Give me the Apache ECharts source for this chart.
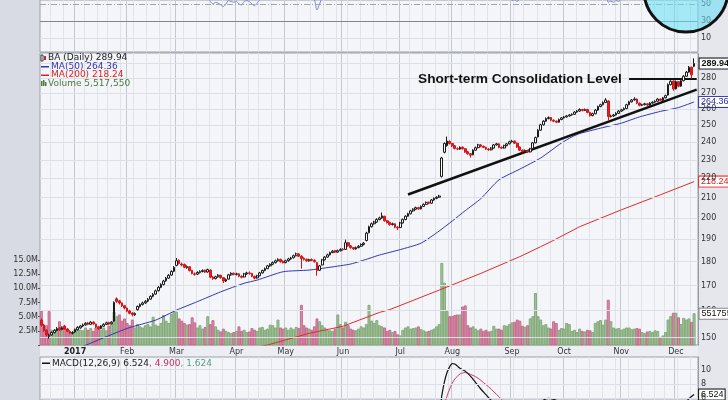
<!DOCTYPE html>
<html><head><meta charset="utf-8">
<script src="https://cdn.jsdelivr.net/npm/echarts@6/dist/echarts.min.js"></script>
<style>html,body{margin:0;padding:0;background:#d8dbe3}#c{width:728px;height:400px}</style>
</head><body><div id="c"></div>
<script>
// ---------- DATA ----------
const tradingDays = [
  ['2016-12', [13,14,15,16,19,20,21,22,23,27,28,29,30]],
  ['2017-01', [3,4,5,6,9,10,11,12,13,17,18,19,20,23,24,25,26,27,30,31]],
  ['2017-02', [1,2,3,6,7,8,9,10,13,14,15,16,17,21,22,23,24,27,28]],
  ['2017-03', [1,2,3,6,7,8,9,10,13,14,15,16,17,20,21,22,23,24,27,28,29,30,31]],
  ['2017-04', [3,4,5,6,7,10,11,12,13,17,18,19,20,21,24,25,26,27,28]],
  ['2017-05', [1,2,3,4,5,8,9,10,11,12,15,16,17,18,19,22,23,24,25,26,30,31]],
  ['2017-06', [1,2,5,6,7,8,9,12,13,14,15,16,19,20,21,22,23,26,27,28,29,30]],
  ['2017-07', [3,5,6,7,10,11,12,13,14,17,18,19,20,21,24,25,26,27,28,31]],
  ['2017-08', [1,2,3,4,7,8,9,10,11,14,15,16,17,18,21,22,23,24,25,28,29,30,31]],
  ['2017-09', [1,5,6,7,8,11,12,13,14,15,18,19,20,21,22,25,26,27,28,29]],
  ['2017-10', [2,3,4,5,6,9,10,11,12,13,16,17,18,19,20,23,24,25,26,27,30,31]],
  ['2017-11', [1,2,3,6,7,8,9,10,13,14,15,16,17,20,21,22,24,27,28,29,30]],
  ['2017-12', [1,4,5,6,7,8,11,12,13]]
];
// [open, close, low, high]
const ohlc = [
[156.4,154.5,154.0,157.0],[154.6,152.5,152.0,155.0],[152.6,151.0,150.4,153.0],[150.4,150.8,149.6,151.4],[150.9,151.8,150.6,152.2],
[151.8,152.6,151.4,153.0],[152.5,153.2,152.2,153.8],[153.4,152.8,152.4,153.8],[152.9,153.5,152.6,154.0],[154.2,153.0,152.8,154.6],
[153.1,152.2,151.9,153.4],[152.2,151.6,151.2,152.6],[151.5,151.8,151.1,152.3],[152.0,152.8,151.6,153.2],[152.8,153.6,152.5,154.0],
[153.5,154.2,153.2,154.6],[154.2,154.6,153.8,155.1],[154.6,155.2,154.3,155.6],[155.3,154.8,154.5,155.7],[154.8,155.6,154.6,156.0],
[155.6,155.0,154.7,156.0],[154.9,153.8,153.5,155.1],[153.9,153.2,152.8,154.2],[153.3,154.2,153.0,154.5],[154.1,154.8,153.9,155.2],
[154.8,155.4,154.5,155.8],[155.5,154.9,154.5,155.8],[155.0,155.6,154.8,156.0],[156.0,163.2,155.8,163.6],[164.6,163.6,163.0,165.2],
[163.8,163.0,162.4,164.2],[163.0,161.8,161.4,163.2],[161.9,161.0,160.5,162.2],[161.0,159.8,159.4,161.2],[159.9,159.0,158.6,160.3],
[159.1,158.5,157.8,159.4],[158.4,158.9,158.0,159.3],[160.4,161.6,160.0,162.0],[161.6,162.4,161.2,162.8],[162.4,163.0,162.0,163.5],
[163.0,163.6,162.6,164.1],[163.7,164.4,163.3,164.9],[164.5,165.6,164.2,166.0],[165.6,166.4,165.2,166.9],[166.5,167.8,166.2,168.3],
[167.9,169.2,167.5,169.7],[169.2,170.4,168.9,170.9],[170.4,171.8,170.0,172.3],[171.9,173.0,171.5,173.5],[173.0,174.2,172.7,174.7],
[174.3,175.8,174.0,176.3],[175.9,177.6,175.5,178.1],[178.4,180.4,178.0,181.6],[180.6,179.2,178.8,181.0],[179.0,178.6,178.0,179.6],
[178.8,177.6,177.2,179.2],[177.4,177.9,177.0,178.4],[177.8,176.2,175.8,178.0],[176.3,175.0,174.6,176.5],[174.8,174.6,174.0,175.4],
[174.7,175.4,174.3,175.9],[175.3,175.8,175.0,176.3],[175.8,176.2,175.4,176.7],[176.3,175.6,175.2,176.6],[175.6,176.6,175.3,177.0],
[176.4,173.4,173.0,176.6],[173.5,172.8,172.3,173.9],[172.8,173.6,172.5,174.0],[173.6,174.2,173.2,174.7],[174.2,173.2,172.8,174.4],
[173.2,171.8,171.0,173.4],[171.8,172.4,171.4,172.9],[172.6,174.4,172.4,174.8],[174.4,175.0,174.0,175.5],[175.0,174.6,174.2,175.4],
[174.6,174.8,174.1,175.3],[174.8,173.8,173.4,175.0],[173.8,173.4,172.9,174.2],[173.5,174.8,173.3,175.2],[174.8,175.2,174.4,175.7],
[175.2,175.0,174.5,175.8],[175.0,173.8,173.4,175.2],[173.8,173.0,172.5,174.0],[173.1,174.0,172.8,174.4],[174.0,175.2,173.8,175.6],
[175.2,176.2,174.9,176.6],[176.2,177.0,175.9,177.5],[177.0,178.2,176.8,178.6],[178.2,178.8,177.8,179.3],[178.9,179.6,178.5,180.1],
[179.6,180.4,179.2,180.9],[180.4,181.0,180.0,181.5],[181.0,180.0,179.6,181.3],[180.1,179.6,179.2,180.6],[179.6,180.4,179.3,180.9],
[180.4,181.2,180.0,181.7],[181.2,181.6,180.8,182.1],[181.7,182.6,181.4,183.1],[182.6,183.4,182.3,184.0],[183.4,182.4,182.0,183.7],
[182.4,181.4,177.0,182.8],[181.5,181.0,180.5,181.9],[181.0,180.4,180.0,181.4],[180.4,180.8,180.0,181.3],[180.9,180.6,180.2,181.4],
[180.6,180.0,179.6,181.0],[179.6,176.2,174.0,179.8],[176.3,178.2,176.0,178.6],[178.6,180.8,178.4,181.2],[180.8,182.0,180.5,182.4],
[182.0,183.0,181.7,183.5],[183.0,184.0,182.7,184.4],[184.0,184.6,183.7,185.1],[184.8,184.2,183.8,185.2],[184.2,184.8,183.9,185.3],
[184.8,185.4,184.5,185.9],[185.5,185.2,184.8,186.0],[185.4,188.4,185.2,189.8],[188.4,187.0,186.6,188.8],[187.0,186.2,185.7,187.3],
[186.2,185.6,185.1,186.5],[185.6,186.2,185.3,186.7],[186.2,186.8,185.9,187.3],[186.8,187.6,186.5,188.1],[187.6,188.2,187.2,188.7],
[189.4,192.8,189.0,193.4],[193.0,195.8,192.7,196.3],[195.8,197.2,195.4,197.8],[197.2,198.0,196.8,198.6],[198.0,199.2,197.6,199.8],
[199.2,200.0,198.8,200.6],[200.0,201.0,199.6,202.6],[200.8,198.6,198.2,201.0],[198.6,197.8,197.3,199.0],[197.9,196.8,196.3,198.1],
[196.8,197.2,196.4,197.7],[197.2,195.6,195.1,197.4],[195.6,195.2,194.2,196.0],[195.4,197.6,195.2,198.1],[197.6,199.2,197.3,199.7],
[199.2,200.8,198.9,201.3],[200.8,202.0,200.5,202.5],[202.0,203.4,201.7,203.9],[203.4,204.2,203.0,204.7],[204.2,205.0,203.8,205.5],
[205.0,204.4,203.9,205.4],[204.4,205.6,204.1,206.1],[205.6,206.6,205.3,207.1],[206.6,207.6,206.3,208.1],[207.7,207.2,206.7,208.0],
[207.2,208.8,206.9,209.3],[208.8,209.6,208.4,210.1],[209.6,210.2,209.2,210.7],[210.2,210.8,209.8,211.4],[221.0,231.0,220.4,231.6],
[234.2,239.2,233.6,239.8],[238.0,240.6,237.4,243.2],[240.4,239.2,238.6,241.0],[239.2,237.8,237.2,239.6],[237.9,236.4,235.8,238.2],
[236.2,236.0,235.4,237.0],[236.0,237.0,235.6,237.6],[237.0,236.2,235.7,237.6],[236.2,234.4,233.9,236.6],[234.5,233.4,232.8,234.9],
[233.4,232.6,231.2,233.8],[232.8,235.4,232.5,235.9],[235.4,236.8,235.0,237.4],[236.8,238.4,236.4,239.0],[238.4,237.6,237.0,238.9],
[237.6,237.0,236.5,238.0],[237.0,236.0,235.5,237.4],[236.0,235.6,235.0,236.6],[235.6,236.6,235.2,237.1],[236.6,238.4,236.3,238.9],
[238.4,239.0,238.0,239.6],[239.0,237.0,236.5,239.3],[237.0,236.6,236.0,237.5],[236.6,238.0,236.3,238.5],[238.0,239.0,237.6,239.5],
[239.0,240.2,238.7,240.8],[240.2,240.6,239.8,241.3],[240.6,239.4,238.9,240.9],[239.4,237.2,236.7,239.7],[237.2,235.4,234.9,237.5],
[235.4,234.6,234.0,235.8],[234.6,235.2,234.2,235.8],[235.2,234.4,233.8,235.5],[234.4,236.2,234.1,236.7],[236.4,239.6,236.1,240.1],
[239.6,242.6,239.3,243.2],[243.0,247.0,242.7,247.6],[247.0,250.2,246.6,250.8],[250.2,252.4,249.8,253.0],[252.4,254.0,252.0,254.7],
[254.0,254.6,253.5,255.3],[254.6,253.0,252.4,255.0],[253.0,252.4,251.8,253.5],[252.4,251.8,251.2,252.8],[251.8,253.4,251.5,254.0],
[253.4,254.4,253.0,255.0],[254.4,255.0,254.0,255.6],[255.0,255.6,254.6,256.2],[255.6,256.2,255.2,256.8],[256.2,256.6,255.8,257.2],
[256.6,258.0,256.3,258.6],[258.0,258.6,257.6,259.3],[258.6,259.6,258.2,260.3],[259.6,259.0,258.4,260.0],[259.0,259.6,258.6,260.2],
[259.6,257.8,257.2,260.0],[257.8,255.8,255.2,258.2],[255.8,257.0,255.4,257.6],[257.0,259.2,256.6,259.8],[259.2,261.4,258.8,262.0],
[261.4,262.6,261.0,263.2],[262.6,264.0,262.2,264.7],[264.0,265.6,263.6,266.8],[265.0,255.2,253.0,265.4],[255.2,255.6,254.6,256.4],
[255.6,256.2,255.0,256.9],[256.2,257.2,255.8,257.9],[257.2,258.6,256.8,259.2],[258.6,259.4,258.2,260.0],[259.4,260.2,259.0,260.9],
[260.2,262.6,259.8,263.2],[262.6,264.4,262.2,265.0],[264.4,265.6,264.0,266.2],[265.6,266.2,265.2,267.4],[266.2,263.6,263.0,266.6],
[263.6,262.2,261.6,264.0],[262.2,262.6,261.7,263.2],[262.6,263.2,262.2,263.8],[263.2,262.4,261.8,263.6],[262.4,263.6,262.0,264.2],
[263.6,264.2,263.2,264.8],[264.2,264.8,263.8,265.4],[264.8,266.2,264.4,266.8],[266.2,265.4,264.9,266.6],[265.4,267.0,265.0,267.6],
[267.0,268.4,266.6,269.0],[268.8,275.6,268.4,276.4],[275.6,277.8,275.0,278.6],[278.0,272.8,271.6,278.4],[272.8,277.6,272.4,278.4],
[277.6,274.6,273.8,278.0],[274.6,278.2,274.2,279.0],[278.2,281.2,277.8,282.0],[281.2,284.0,280.8,284.8],[284.0,287.4,283.6,288.2],
[287.4,282.2,279.6,287.8],[288.0,289.94,287.4,293.6]
];
// volume, millions of shares
const volumeM = [
6.0,3.0,3.4,5.9,2.6,2.4,2.8,4.1,3.2,3.0,2.3,2.1,2.0,2.8,3.2,2.6,2.5,3.0,2.6,2.9,
2.4,3.0,2.8,2.6,3.0,2.5,3.3,3.6,5.8,5.0,5.3,4.2,4.6,3.8,3.4,4.4,3.0,3.6,3.2,3.0,
3.4,3.6,3.2,4.9,3.5,3.3,3.8,5.2,4.2,3.8,5.4,5.8,5.8,4.6,4.2,3.8,3.5,3.6,4.8,3.9,
3.0,3.4,2.8,3.1,5.0,3.6,4.3,3.2,2.6,2.3,2.8,2.4,2.2,2.0,2.2,2.4,3.2,2.4,2.6,2.2,
2.3,2.9,2.6,2.4,3.0,3.1,2.6,2.8,3.5,3.4,3.0,4.4,3.0,2.8,3.0,2.6,3.0,2.7,3.1,2.9,
7.0,3.4,3.0,2.8,2.6,3.2,4.6,4.1,3.4,3.0,2.6,2.5,2.4,2.8,5.3,3.6,3.0,4.0,3.4,2.8,
2.6,2.5,2.8,3.2,3.0,3.6,7.0,4.2,3.8,4.3,3.4,3.2,3.0,2.4,2.6,2.2,2.4,1.8,1.6,2.6,
3.0,3.2,2.8,2.9,3.0,3.2,2.7,2.5,2.3,2.4,2.6,2.8,3.2,3.6,14.4,10.9,5.9,5.0,5.0,5.2,
5.3,5.3,6.7,6.9,3.4,3.0,3.2,2.8,2.5,2.8,2.4,2.6,2.3,2.4,3.3,2.8,2.8,2.6,3.4,3.3,
3.6,3.9,4.0,4.4,4.2,3.3,3.1,3.4,4.6,5.0,9.1,5.0,4.4,3.4,3.6,3.0,2.8,4.1,3.8,2.6,
2.9,2.8,3.8,3.6,2.4,2.6,2.2,2.8,2.4,2.3,2.6,2.5,2.2,3.8,4.1,4.3,3.5,4.4,7.9,4.1,
3.0,2.8,2.9,2.6,2.8,3.0,3.0,2.7,2.8,2.9,2.8,2.2,2.0,2.3,2.4,2.2,2.5,2.4,1.3,1.6,
2.2,4.4,5.0,5.6,5.6,4.8,3.6,4.7,4.4,4.6,4.0,5.52
];
// [trading-day index, value]
const ma50 = [[10,144.5],[17,147.2],[33,153.3],[44,156.4],[52,160.2],[60,163.5],[69,167.4],[78,170.9],[83,172.2],[93,175.7],[103,176.4],[111,177.6],[119,179.0],[126,181.4],[130,182.9],[138,185.3],[146,188.2],[153,193.8],[158,198.5],[163,203.5],[169,209.5],[176,219.2],[184,224.9],[192,231.0],[200,239.5],[204,243.0],[207,245.0],[215,248.2],[223,251.2],[230,255.0],[238,258.4],[245,260.8],[251,264.36]];
const ma200 = [[78,145.6],[87,147.3],[103,151.5],[116,154.1],[130,159.3],[134,160.4],[153,168.1],[169,175.0],[184,182.2],[192,186.6],[196,188.9],[207,195.8],[223,203.9],[238,211.4],[251,218.24]];
const macd = [[140,3.2],[150,3.4],[153,3.9],[154,6.4],[155,8.3],[156,9.6],[157,10.4],[158,10.85],[159,10.8],[160,10.5],[161,10.2],[162,10.0],[163,9.8],[165,9.1],[167,8.2],[169,7.3],[171,6.5],[172,6.1],[174,5.4],[178,4.6],[185,4.0],[190,4.9],[195,6.0],[200,5.5],[210,5.0],[220,4.2],[230,3.6],[240,3.4],[245,4.6],[248,5.5],[249,5.95],[250,6.25],[251,6.524]];
const signal = [[140,3.0],[150,3.0],[154,3.9],[155,5.2],[156,6.3],[157,7.3],[158,8.1],[159,8.7],[160,9.1],[161,9.4],[162,9.55],[163,9.6],[164,9.5],[166,9.2],[168,8.8],[170,8.2],[172,7.6],[174,6.9],[176,6.2],[177,5.8],[180,5.1],[190,4.6],[200,5.4],[210,5.1],[220,4.6],[230,3.9],[240,3.6],[245,4.0],[251,4.9]];
const rsi = [[0,58],[12,57],[13,60],[27,62],[28,78],[35,60],[52,82],[60,58],[64,57],[65,53],[66,50],[67,52],[68,51],[69,49],[70,47],[71,50],[72,54],[73,53],[74,52],[75,53],[76,50],[77,49],[78,53],[79,54],[80,53],[81,50],[82,48],[83,51],[84,55],[86,60],[98,68],[100,58],[102,56],[104,57],[105,55],[106,43],[107,50],[108,57],[110,62],[140,75],[154,90],[160,70],[170,62],[180,58],[181,54],[182,55],[183,53],[184,56],[188,60],[195,80],[210,60],[217,62],[218,52],[219,53.5],[220,52],[221,54],[222,53],[223,56],[226,62],[241,75],[251,72]];
const priceTicks = [150,160,170,180,190,200,210,220,230,240,250,260,270,280,290];
const rsiTicks = [10,30,50];
const macdTicks = [6,8,10];
const monthNames = ['Jan','Feb','Mar','Apr','May','Jun','Jul','Aug','Sep','Oct','Nov','Dec'];
const lastClose = 289.94, lastMA50 = 264.36, lastMA200 = 218.24, lastVolume = 5517550;
const macdValues = [6.524, 4.900, 1.624];
const trendLine = [[141, 211.6], [252, 272.3]];
const consolidation = [[226, 279.5], [252, 279.5]];
const annotationText = 'Short-term Consolidation Level';

// ---------- BUILD ----------
const dates = [];
tradingDays.forEach(([m, ds]) => ds.forEach(d => dates.push(m + '-' + (d < 10 ? '0' : '') + d)));
const dayMs = 864e5;
function isWeekStart(i) {
  if (i <= 0) return false;
  const d = Date.parse(dates[i]), p = Date.parse(dates[i - 1]);
  return new Date(d).getUTCDay() < new Date(p).getUTCDay() || (d - p) > 3 * dayMs;
}
function isMonthStart(i) { return i > 0 && dates[i].slice(5, 7) !== dates[i - 1].slice(5, 7); }

const volData = volumeM.map((v, i) => {
  const up = i === 0 ? ohlc[i][1] >= ohlc[i][0] : ohlc[i][1] >= ohlc[i - 1][1];
  return { value: v, itemStyle: up ? { color: '#a2c399', borderColor: '#82a87a' } : { color: '#d98ba8', borderColor: '#c46b8c' } };
});

const FONT = 'DejaVu Sans';
const weekLines = { show: true, interval: (i) => isWeekStart(i), lineStyle: { color: '#e0e3e9', width: 1 } };
const monthLines = { show: true, interval: (i) => isMonthStart(i), lineStyle: { color: '#c4c8d0', width: 1 } };
function xCat(gridIndex, extra) {
  return Object.assign({ type: 'category', gridIndex, data: dates, boundaryGap: true,
    axisLine: { show: false }, axisTick: { show: false }, axisLabel: { show: false }, splitLine: { show: false } }, extra);
}
const tagLabel = (text, color, bold) => ({
  show: true, formatter: text, color: '#111', fontFamily: 'Liberation Sans', fontSize: 9, fontWeight: bold ? 'bold' : 'normal',
  backgroundColor: '#fff', borderColor: color, borderWidth: 1, padding: [1, 1, 0, 2]
});
const axisText = { fontSize: 8, color: '#333', fontFamily: FONT };
function gridMarkLines(ticks, styleFor) {
  return { silent: true, symbol: 'none', animation: false,
    label: Object.assign({ show: true, position: 'end', distance: 3, formatter: (p) => String(p.value) }, axisText),
    data: ticks.map(v => ({ yAxis: v, lineStyle: styleFor(v) })) };
}
const lightLine = { color: '#dcdfe6', width: 1, type: 'solid' };

const option = {
  backgroundColor: '#d8dbe3',
  animation: false,
  textStyle: { fontFamily: FONT },
  grid: [
    { left: 40, right: 30, top: 0, height: 52, show: true, backgroundColor: '#f4f5f9', borderColor: '#9a9fa8', borderWidth: 1 },
    { left: 40, right: 30, top: 53, height: 292, show: true, backgroundColor: '#f4f5f9', borderColor: '#9a9fa8', borderWidth: 1 },
    { left: 40, right: 30, top: 260, height: 85 },
    { left: 40, right: 30, top: 357, height: 43, show: true, backgroundColor: '#f4f5f9', borderColor: '#9a9fa8', borderWidth: 1 }
  ],
  xAxis: [
    xCat(0, { splitLine: weekLines }), xCat(0, { splitLine: monthLines }),
    xCat(1, { splitLine: weekLines }), xCat(1, { splitLine: monthLines }),
    xCat(2, { axisLabel: Object.assign({ show: true, interval: (i) => isMonthStart(i), margin: 3,
      formatter: (v) => { const m = +v.slice(5, 7); return m === 1 ? '{y|' + v.slice(0, 4) + '}' : monthNames[m - 1]; },
      rich: { y: { fontWeight: 'bold', fontSize: 8, color: '#222' } } }, axisText) }),
    xCat(3, { splitLine: weekLines }), xCat(3, { splitLine: monthLines })
  ],
  yAxis: [
    { type: 'value', gridIndex: 0, min: -6.5, max: 54.7, position: 'right', axisLabel: { show: false }, axisLine: { show: false }, axisTick: { show: false }, splitLine: { show: false } },
    { type: 'log', gridIndex: 1, min: 147.3, max: 297.4, position: 'right', axisLabel: { show: false }, axisTick: { show: false }, splitLine: { show: false },
      axisLine: { show: true, lineStyle: { color: '#8c9099', type: 'dotted' } } },
    { type: 'value', gridIndex: 2, min: 0, max: 15, interval: 2.5, position: 'left', splitLine: { show: false }, axisLine: { show: false },
      axisTick: { show: true, length: 2, lineStyle: { color: '#555' } },
      axisLabel: Object.assign({ margin: 2, formatter: (v) => v === 0 ? '' : v.toFixed(1) + 'M' }, axisText) },
    { type: 'value', gridIndex: 3, min: 5.76, max: 11.78, position: 'right', axisLabel: { show: false }, axisTick: { show: false }, splitLine: { show: false },
      axisLine: { show: true, lineStyle: { color: '#8c9099', type: 'dotted' } } }
  ],
  series: [
    // price gridlines + right-side price labels
    { type: 'line', xAxisIndex: 2, yAxisIndex: 1, data: [], z: 1, silent: true, markLine: gridMarkLines(priceTicks, () => lightLine) },
    // RSI
    { type: 'line', xAxisIndex: 0, yAxisIndex: 0, data: rsi, symbol: 'none', smooth: 0.3, z: 3,
      lineStyle: { color: '#8088c8', width: 1 },
      markLine: gridMarkLines(rsiTicks, (v) => v === 30 ? { color: '#80858e', width: 1, type: 'solid' }
        : v === 50 ? { color: '#a0a4ad', width: 1, type: [6, 2, 1, 2] } : lightLine) },
    // Volume
    { type: 'bar', xAxisIndex: 4, yAxisIndex: 2, data: volData, barWidth: 2, z: 2,
      markPoint: { symbol: 'rect', symbolSize: 1, itemStyle: { color: 'rgba(0,0,0,0)' },
        label: Object.assign(tagLabel(String(lastVolume), '#888', false), { position: 'right', distance: 5 }),
        data: [{ coord: [ohlc.length - 1, volumeM[volumeM.length - 1]] }] } },
    // MA200
    { type: 'line', xAxisIndex: 2, yAxisIndex: 1, data: ma200, symbol: 'none', z: 4,
      lineStyle: { color: '#e22a2a', width: 1 },
      endLabel: Object.assign(tagLabel(lastMA200.toFixed(2), '#e22a2a', false), { color: '#d02020', distance: 5 }) },
    // MA50
    { type: 'line', xAxisIndex: 2, yAxisIndex: 1, data: ma50, symbol: 'none', smooth: 0.2, z: 4,
      lineStyle: { color: '#3535b2', width: 1 },
      endLabel: Object.assign(tagLabel(lastMA50.toFixed(2), '#3535b2', false), { color: '#2a2a9a', distance: 5 }) },
    // Candles
    { type: 'candlestick', xAxisIndex: 2, yAxisIndex: 1, data: ohlc, barWidth: 2.2, z: 5,
      itemStyle: { color: '#ffffff', color0: '#ec1c1c', borderColor: '#1a1a1a', borderColor0: '#d41515', borderWidth: 1 },
      markPoint: { symbol: 'rect', symbolSize: 1, itemStyle: { color: 'rgba(0,0,0,0)' }, z: 10,
        label: Object.assign(tagLabel(lastClose.toFixed(2), '#111', true), { position: 'right', distance: 5 }),
        data: [{ coord: [ohlc.length - 1, lastClose] }] },
      markLine: { silent: true, symbol: 'none', animation: false, label: { show: false },
        lineStyle: { color: '#111', width: 2.5, type: 'solid' },
        data: [
          [{ coord: trendLine[0] }, { coord: trendLine[1] }],
          [{ coord: consolidation[0], lineStyle: { width: 1.8 } }, { coord: consolidation[1] }]
        ] } },
    // MACD grid lines + labels
    { type: 'line', xAxisIndex: 5, yAxisIndex: 3, data: [], z: 1, silent: true, markLine: gridMarkLines(macdTicks, () => lightLine) },
    // MACD signal + MACD
    { type: 'line', xAxisIndex: 5, yAxisIndex: 3, data: signal, symbol: 'none', smooth: 0.4, z: 3,
      lineStyle: { color: '#cc3a66', width: 1 } },
    { type: 'line', xAxisIndex: 5, yAxisIndex: 3, data: macd, symbol: 'none', smooth: 0.4, z: 4,
      lineStyle: { color: '#111', width: 1.2 },
      endLabel: Object.assign(tagLabel(macdValues[0].toFixed(3), '#111', false), { distance: 5 }) }
  ],
  graphic: [
    { type: 'rect', z: -5, silent: true, shape: { x: 698, y: 0, width: 30, height: 400 }, style: { fill: '#e5e7ed' } },
    { type: 'rect', z: -5, silent: true, shape: { x: 40, y: 345, width: 658, height: 12 }, style: { fill: '#eceef3' } },
    // price legend
    { type: 'rect', z: 20, silent: true, shape: { x: 41, y: 55, width: 2, height: 6 }, style: { fill: '#fff', stroke: '#111', lineWidth: 0.8 } },
    { type: 'rect', z: 20, silent: true, shape: { x: 44, y: 56, width: 2, height: 4 }, style: { fill: '#e02020' } },
    { type: 'text', z: 20, silent: true, x: 48, y: 58, style: { text: 'BA (Daily) 289.94', font: '9px "DejaVu Sans"', fill: '#222', verticalAlign: 'middle' } },
    { type: 'rect', z: 20, silent: true, shape: { x: 41, y: 66, width: 8, height: 1.5 }, style: { fill: '#3535b2' } },
    { type: 'text', z: 20, silent: true, x: 51, y: 66.5, style: { text: 'MA(50) 264.36', font: '9px "DejaVu Sans"', fill: '#3535b2', verticalAlign: 'middle' } },
    { type: 'rect', z: 20, silent: true, shape: { x: 41, y: 74.5, width: 8, height: 1.5 }, style: { fill: '#e02020' } },
    { type: 'text', z: 20, silent: true, x: 51, y: 75, style: { text: 'MA(200) 218.24', font: '9px "DejaVu Sans"', fill: '#e02020', verticalAlign: 'middle' } },
    { type: 'rect', z: 20, silent: true, shape: { x: 41, y: 81, width: 1.5, height: 5 }, style: { fill: '#4a7a3c' } },
    { type: 'rect', z: 20, silent: true, shape: { x: 43, y: 80, width: 1.5, height: 6 }, style: { fill: '#4a7a3c' } },
    { type: 'rect', z: 20, silent: true, shape: { x: 45, y: 82, width: 1.5, height: 4 }, style: { fill: '#4a7a3c' } },
    { type: 'text', z: 20, silent: true, x: 48, y: 83.5, style: { text: 'Volume 5,517,550', font: '9px "DejaVu Sans"', fill: '#4a7a3c', verticalAlign: 'middle' } },
    // MACD legend
    { type: 'rect', z: 20, silent: true, shape: { x: 42, y: 362.5, width: 8, height: 1.5 }, style: { fill: '#111' } },
    { type: 'text', z: 20, silent: true, x: 52, y: 363.5, style: { text: '{a|MACD(12,26,9) ' + macdValues[0].toFixed(3) + '}{b|, ' + macdValues[1].toFixed(3) + '}{c|, ' + macdValues[2].toFixed(3) + '}',
      verticalAlign: 'middle', rich: { a: { font: '9px "DejaVu Sans"', fill: '#222' }, b: { font: '9px "DejaVu Sans"', fill: '#c8325f' }, c: { font: '9px "DejaVu Sans"', fill: '#5c9c8c' } } } },
    // annotation text
    { type: 'text', silent: true, z: 20, x: 418, y: 79.5, style: { text: annotationText, font: 'bold 13.7px "Liberation Sans", Arial', fill: '#111', verticalAlign: 'middle' } },
    // highlight circle
    { type: 'circle', silent: true, z: 50, shape: { cx: 686, cy: -10, r: 42 }, style: { fill: 'rgba(100,222,245,0.55)', stroke: '#111', lineWidth: 3 } }
  ]
};
const chart = echarts.init(document.getElementById('c'), null, { renderer: 'canvas' });
chart.setOption(option);
</script></body></html>
